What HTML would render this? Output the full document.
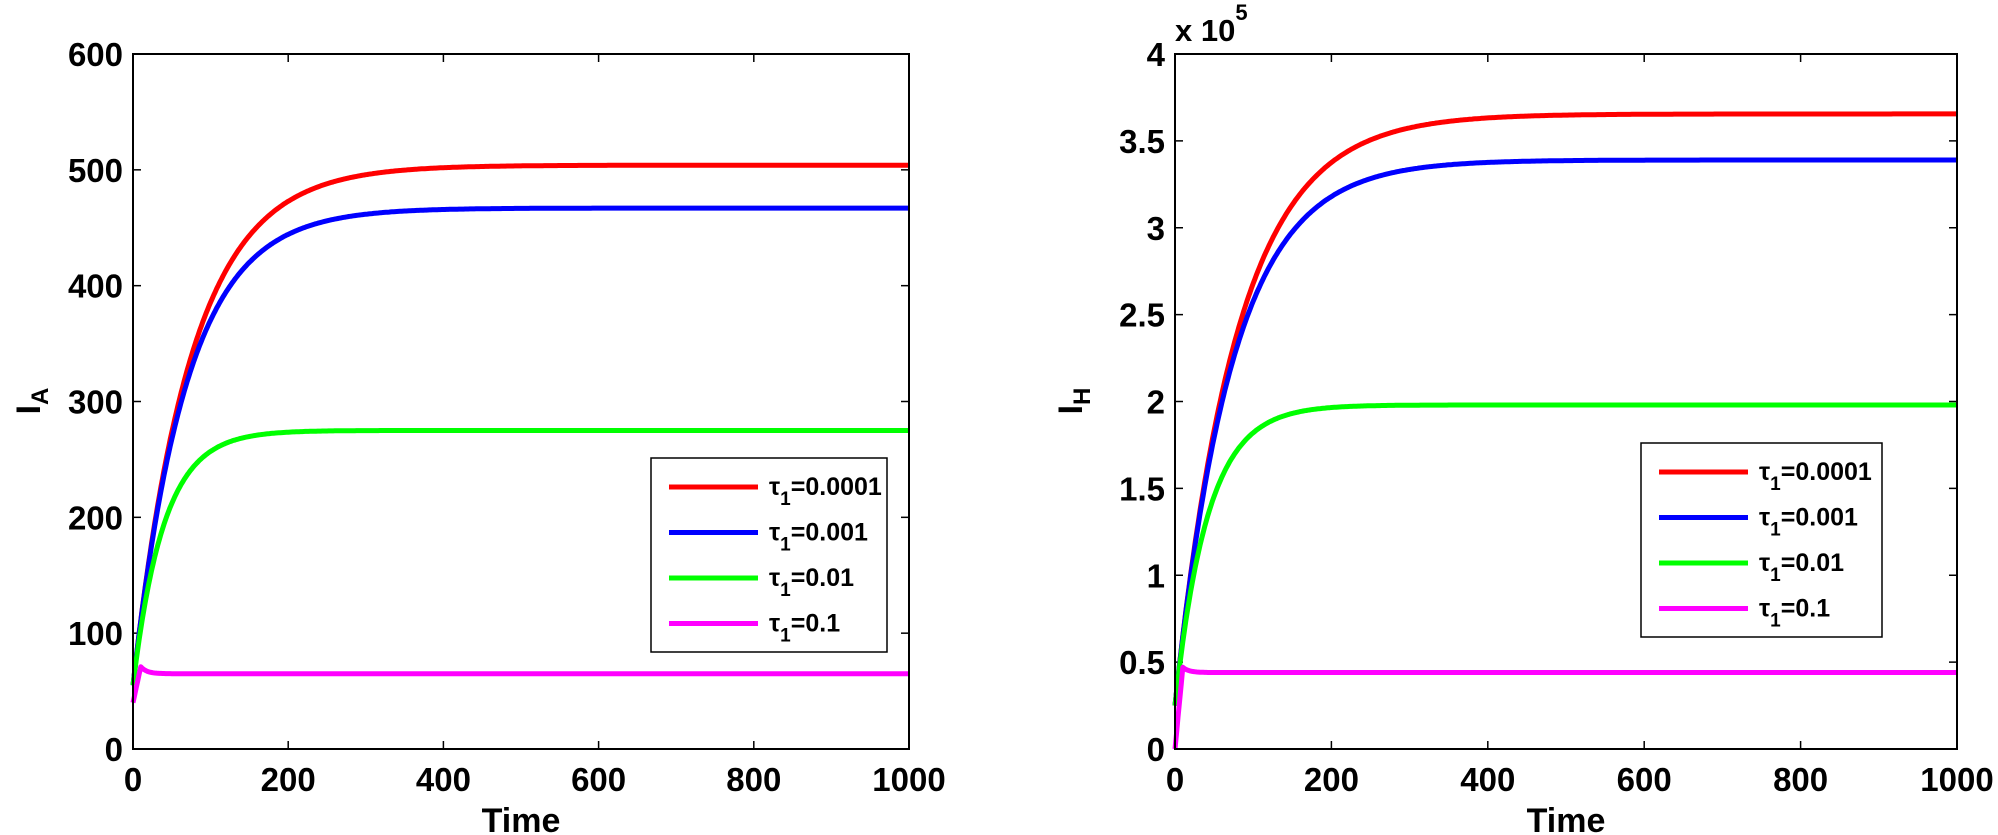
<!DOCTYPE html>
<html><head><meta charset="utf-8"><style>
body{margin:0;background:#fff}
svg{display:block}
text{font-family:"Liberation Sans",Arial,sans-serif;font-weight:bold;fill:#000}
</style></head><body>
<svg id="s" width="1998" height="835" xmlns="http://www.w3.org/2000/svg"></svg>
<script>
const s=document.getElementById('s');let h='';
const T=54,B=749;
function plot(L,R,ymax,yticks,fmt,series,ylab,sub,leg){
  const X=t=>L+(R-L)*t/1000, Y=v=>B-(B-T)*v/ymax;
  for(let t=0;t<=1000;t+=200){const x=X(t);
    h+=`<line x1="${x}" y1="${B}" x2="${x}" y2="${B-8}" stroke="#000" stroke-width="1.5"/><line x1="${x}" y1="${T}" x2="${x}" y2="${T+8}" stroke="#000" stroke-width="1.5"/>`;
    h+=`<text x="${x}" y="791" font-size="33" text-anchor="middle">${t}</text>`;}
  yticks.forEach(v=>{const y=Y(v);
    h+=`<line x1="${L}" y1="${y}" x2="${L+8}" y2="${y}" stroke="#000" stroke-width="1.5"/><line x1="${R}" y1="${y}" x2="${R-8}" y2="${y}" stroke="#000" stroke-width="1.5"/>`;
    h+=`<text x="${L-10}" y="${y+12}" font-size="33" text-anchor="end">${fmt(v)}</text>`;});
  series.forEach(([c,f])=>{let p=[];for(let t=0;t<=1000;t+=2)p.push(X(t).toFixed(1)+','+Y(f(t)).toFixed(1));
    h+=`<polyline points="${p.join(' ')}" fill="none" stroke="${c}" stroke-width="5" stroke-linejoin="round"/>`;});
  h+=`<rect x="${L}" y="${T}" width="${R-L}" height="${B-T}" fill="none" stroke="#000" stroke-width="2"/>`;
  h+=`<text x="${(L+R)/2}" y="832" font-size="34" text-anchor="middle">Time</text>`;
  h+=`<text transform="translate(${ylab},401) rotate(-90)" font-size="34" text-anchor="middle">I<tspan font-size="24" dy="8">${sub}</tspan></text>`;
  const [lx,ly,lw,lhh]=leg;
  h+=`<rect x="${lx}" y="${ly}" width="${lw}" height="${lhh}" fill="#fff" stroke="#000" stroke-width="1.5"/>`;
  const labs=['0.0001','0.001','0.01','0.1'],cols=['#ff0000','#0000ff','#00ff00','#ff00ff'];
  labs.forEach((l,i)=>{const y=ly+29+i*45.5;
    h+=`<line x1="${lx+18}" y1="${y}" x2="${lx+107}" y2="${y}" stroke="${cols[i]}" stroke-width="5"/>`;
    h+=`<text x="${lx+118}" y="${y+8}" font-size="25">τ<tspan font-size="19" dy="10">1</tspan><tspan dy="-10">=${l}</tspan></text>`;});
}
const sat=(a,b,tau)=>t=>a+(b-a)*(1-Math.exp(-t/tau));
const bump=(a,pk,b)=>t=>t<10?a+(pk-a)*t/10:b+(pk-b)*Math.exp(-(t-10)/8);
plot(133,909,600,[0,100,200,300,400,500,600],v=>v,[
 ['#ff0000',sat(55,504,75)],['#0000ff',sat(55,467,69)],['#00ff00',sat(55,275,40)],['#ff00ff',bump(40,71,65)]
],40,'A',[651,458,236,194]);
plot(1175,1957,4,[0,0.5,1,1.5,2,2.5,3,3.5,4],v=>v,[
 ['#ff0000',sat(0.25,3.655,80)],['#0000ff',sat(0.25,3.39,74)],['#00ff00',sat(0.25,1.98,42)],['#ff00ff',bump(0,0.47,0.44)]
],1082,'H',[1641,443,241,194]);
h+=`<text x="1175" y="41" font-size="31">x 10<tspan font-size="22" dy="-21">5</tspan></text>`;
s.innerHTML=h;
</script>
</body></html>
